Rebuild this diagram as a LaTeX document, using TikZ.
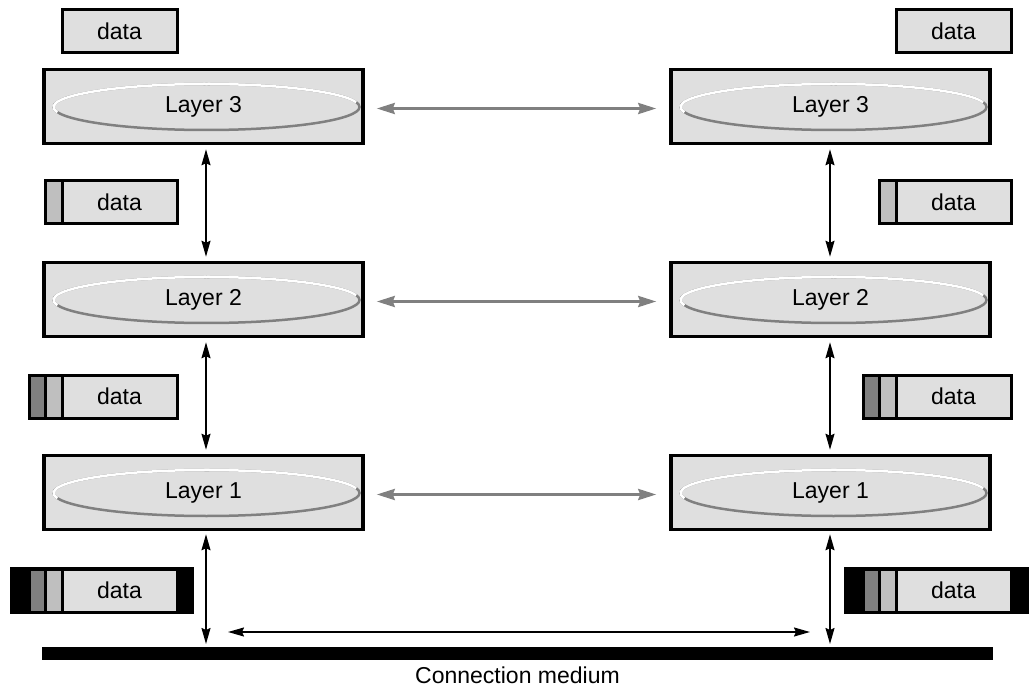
\documentclass[tikz,border=0pt]{standalone}
\usepackage{fontspec}
\setmainfont{Liberation Sans}
\usetikzlibrary{arrows.meta}
\definecolor{boxfill}{gray}{0.875}
\definecolor{hdrlight}{gray}{0.75}
\definecolor{hdrdark}{gray}{0.5}
\definecolor{peerline}{gray}{0.5}

\begin{document}
\begin{tikzpicture}[x=1pt,y=-1pt,
  lbl/.style={font=\fontsize{23}{27}\selectfont},
  layerbox/.style={lbl, draw, line width=3.5pt, fill=boxfill,
    minimum width=319pt, minimum height=74pt, inner sep=0pt},
  databox/.style={lbl, draw, line width=3pt, fill=boxfill,
    minimum width=115pt, minimum height=43pt, inner sep=0pt, outer sep=0pt},
  hdr/.style={draw, line width=3pt},
  varrow/.style={{Stealth[length=16pt,width=9pt,inset=2pt]}-{Stealth[length=16pt,width=9pt,inset=2pt]}, line width=1.5pt},
  peerarrow/.style={{Stealth[length=18pt,width=11pt,inset=2pt]}-{Stealth[length=18pt,width=11pt,inset=2pt]},
    draw=peerline, fill=peerline, line width=3pt, shorten <=12pt, shorten >=13pt},
]
\useasboundingbox (0,0) rectangle (1029,687);

% protocol layers on both hosts
\node[layerbox] (L3) at (203.5,106.5) {Layer 3};
\node[layerbox] (R3) at (830.5,106.5) {Layer 3};
\node[layerbox] (L2) at (203.5,299.5) {Layer 2};
\node[layerbox] (R2) at (830.5,299.5) {Layer 2};
\node[layerbox] (L1) at (203.5,492.5) {Layer 1};
\node[layerbox] (R1) at (830.5,492.5) {Layer 1};

% embossed ellipse inside each layer
\foreach \n in {L3,R3,L2,R2,L1,R1} {
  \begin{scope}[shift={(\n.center)}]
    \draw[peerline, line width=2.5pt] (3,0.5) ellipse [x radius=153pt, y radius=23pt];
    \draw[white, line width=2.5pt] (3,0.5) ++(12:153pt and 23pt)
      arc[start angle=12, end angle=193, x radius=153pt, y radius=23pt];
  \end{scope}
}

% peer-to-peer communication
\draw[peerarrow] ([yshift=-2pt]L3.east) -- ([yshift=-2pt]R3.west);
\draw[peerarrow] ([yshift=-2pt]L2.east) -- ([yshift=-2pt]R2.west);
\draw[peerarrow] ([yshift=-2pt]L1.east) -- ([yshift=-2pt]R1.west);

% connection medium
\node[fill=black, minimum width=951pt, minimum height=13pt, inner sep=0pt, outer sep=0pt] (bar) at (517.5,653.5) {};
\node[lbl, anchor=base] (cm) at (517.5,683) {Connection medium};

% vertical interfaces between layers
\draw[varrow, shorten <=4pt, shorten >=4pt] ([xshift=2.5pt]L3.south) -- ([xshift=2.5pt]L2.north);
\draw[varrow, shorten <=4pt, shorten >=4pt] ([xshift=2.5pt]L2.south) -- ([xshift=2.5pt]L1.north);
\draw[varrow, shorten <=3pt, shorten >=3pt] ([xshift=2.5pt]L1.south) -- ([xshift=2.5pt]L1.south |- bar.north);
\draw[varrow, shorten <=4pt, shorten >=4pt] ([xshift=-0.5pt]R3.south) -- ([xshift=-0.5pt]R2.north);
\draw[varrow, shorten <=4pt, shorten >=4pt] ([xshift=-0.5pt]R2.south) -- ([xshift=-0.5pt]R1.north);
\draw[varrow, shorten <=3pt, shorten >=3pt] ([xshift=-0.5pt]R1.south) -- ([xshift=-0.5pt]R1.south |- bar.north);

% physical transmission
\coordinate (m1) at (228,632);
\coordinate (m2) at (810,632);
\draw[varrow] (m1) -- (m2);

% data units, left side
\node[databox] (dL3) at (119.5,31.5) {data};
\node[databox] (dL2) at (119.5,202.5) {data};
\filldraw[hdr, fill=hdrlight] (dL2.north west) rectangle ++(-17,43);
\node[databox] (dL1) at (119.5,396.5) {data};
\filldraw[hdr, fill=hdrlight] (dL1.north west) rectangle ++(-17,43);
\filldraw[hdr, fill=hdrdark] ([xshift=-17pt]dL1.north west) rectangle ++(-16,43);
\fill[black] (10,567) rectangle (194,614);
\node[databox] (dL0) at (119.5,590.5) {data};
\filldraw[hdr, fill=hdrlight] (dL0.north west) rectangle ++(-17,43);
\filldraw[hdr, fill=hdrdark] ([xshift=-17pt]dL0.north west) rectangle ++(-16,43);

% data units, right side
\node[databox] (dR3) at (953.5,31.5) {data};
\node[databox] (dR2) at (953.5,202.5) {data};
\filldraw[hdr, fill=hdrlight] (dR2.north west) rectangle ++(-17,43);
\node[databox] (dR1) at (953.5,396.5) {data};
\filldraw[hdr, fill=hdrlight] (dR1.north west) rectangle ++(-17,43);
\filldraw[hdr, fill=hdrdark] ([xshift=-17pt]dR1.north west) rectangle ++(-16,43);
\fill[black] (844,567) rectangle (1029,614);
\node[databox] (dR0) at (953.5,590.5) {data};
\filldraw[hdr, fill=hdrlight] (dR0.north west) rectangle ++(-17,43);
\filldraw[hdr, fill=hdrdark] ([xshift=-17pt]dR0.north west) rectangle ++(-16,43);
\end{tikzpicture}
\end{document}
